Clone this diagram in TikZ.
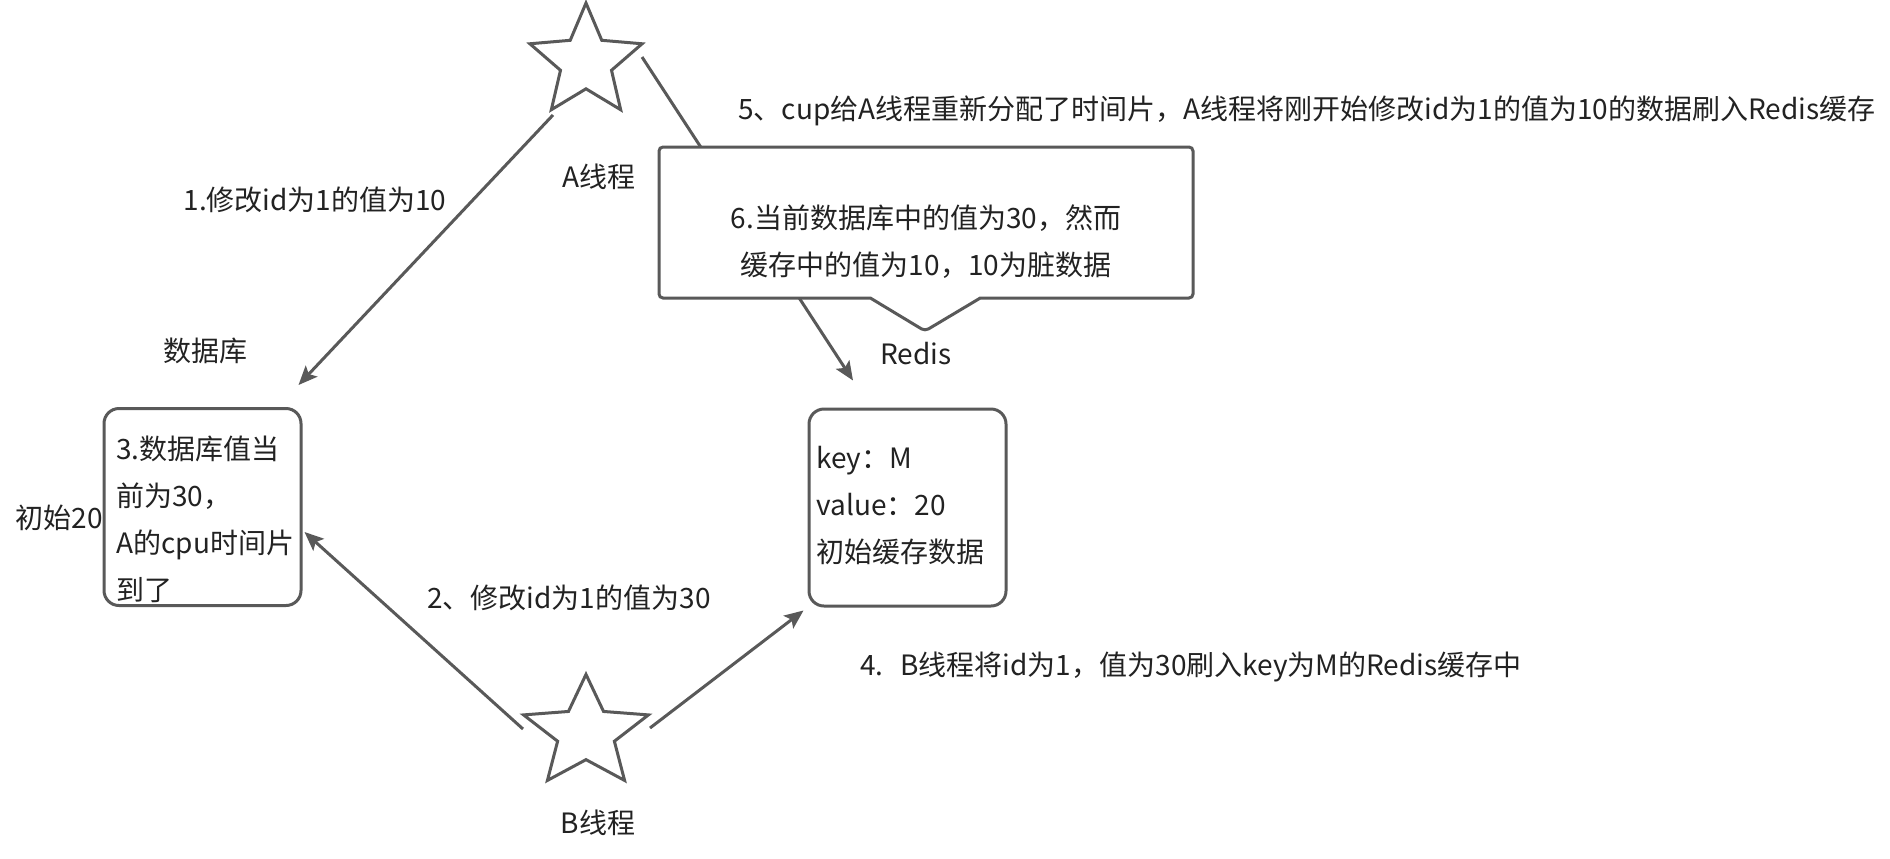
\documentclass[tikz,border=0pt]{standalone}
\usepackage{fontspec}
\setmainfont{Noto Sans CJK SC}
\usetikzlibrary{shapes.geometric,shapes.callouts,arrows.meta,calc}
\definecolor{ln}{RGB}{89,89,89}
\definecolor{tx}{RGB}{34,34,34}
\begin{document}
\begin{tikzpicture}[x=0.5pt,y=-0.5pt,
  txt/.style={text=tx, font=\fontsize{14pt}{23.5pt}\selectfont, inner sep=0pt},
  box/.style={draw=ln, line width=1.5pt, rounded corners=7.5pt, minimum width=98.5pt, minimum height=98.5pt, inner sep=0pt},
  starshape/.style={draw=ln, line width=1.5pt, star, star points=5, star point ratio=2.2, minimum size=59pt, inner sep=0pt},
  conn/.style={draw=ln, line width=1.5pt, -{Stealth[length=9.5pt,width=8pt,inset=2pt]}},
]
\useasboundingbox (0,0) rectangle (1890,858);
\fill[white] (0,0) rectangle (1890,858);

% stars
\node[starshape] (starA) at (586,62) {};
\begin{scope}[shift={(586,733)}, xscale=1.12]
\node[starshape, transform shape, minimum size=58.6pt] (starB) at (0,0) {};
\end{scope}

% boxes
\node[box] (db) at (202.5,507) {};
\node[box] (redis) at (907.5,507.5) {};

% connector end points
\coordinate (a1) at ($(starA.center)+(-33,53)$);
\coordinate (a2) at ($(starA.center)+(56,-5)$);
\coordinate (b1) at ($(starB.center)+(-63,-4)$);
\coordinate (b2) at ($(starB.center)+(64,-5)$);
\coordinate (t1) at ($(db.north east)+(-4,-22)$);
\coordinate (t2) at ($(db.east)+(2,25)$);
\coordinate (t3) at ($(redis.north)+(-54.5,-27)$);
\coordinate (t4) at ($(redis.south west)+(-4,3)$);

% connectors
\draw[conn] (a1) -- (t1);
\draw[conn] (a2) -- (t3);
\draw[conn] (b1) -- (t2);
\draw[conn] (b2) -- (t4);

% callout
\node[rectangle callout, draw=ln, fill=white, line width=1.5pt, rounded corners=2pt,
      minimum width=267pt, minimum height=75.5pt, inner sep=0pt,
      callout absolute pointer={(925,331)}, callout pointer width=55pt] (note) at (926,222.5) {};

% texts
\node[txt] (lblA) at (599,177) {A线程};
\node[txt] (lblDB) at (205,351) {数据库};
\node[txt, anchor=east] (lblInit) at (103,518) {初始20};
\node[txt] (l1) at (315,200) {1.修改id为1的值为10};
\node[txt] (l2) at (569,598) {2、修改id为1的值为30};
\node[txt, anchor=west] (l4) at (860,667) {4.\hspace{0.6em}B线程将id为1，值为30刷入key为M的Redis缓存中};
\node[txt, anchor=west] (l5) at (738,111) {5、cup给A线程重新分配了时间片，A线程将刚开始修改id为1的值为10的数据刷入Redis缓存};
\node[txt] (lblR) at (916,354) {Redis};
\node[txt] (lblB) at (598,823) {B线程};
\node[txt, align=left, anchor=west] (dbtxt) at (116,519.5) {3.数据库值当\\前为30，\\A的cpu时间片\\到了};
\node[txt, align=left, anchor=west] (rtxt) at (816,506) {key：M\\value：20\\初始缓存数据};
\node[txt, align=center] (ntxt) at (926,242) {6.当前数据库中的值为30，然而\\缓存中的值为10，10为脏数据};
\end{tikzpicture}
\end{document}
